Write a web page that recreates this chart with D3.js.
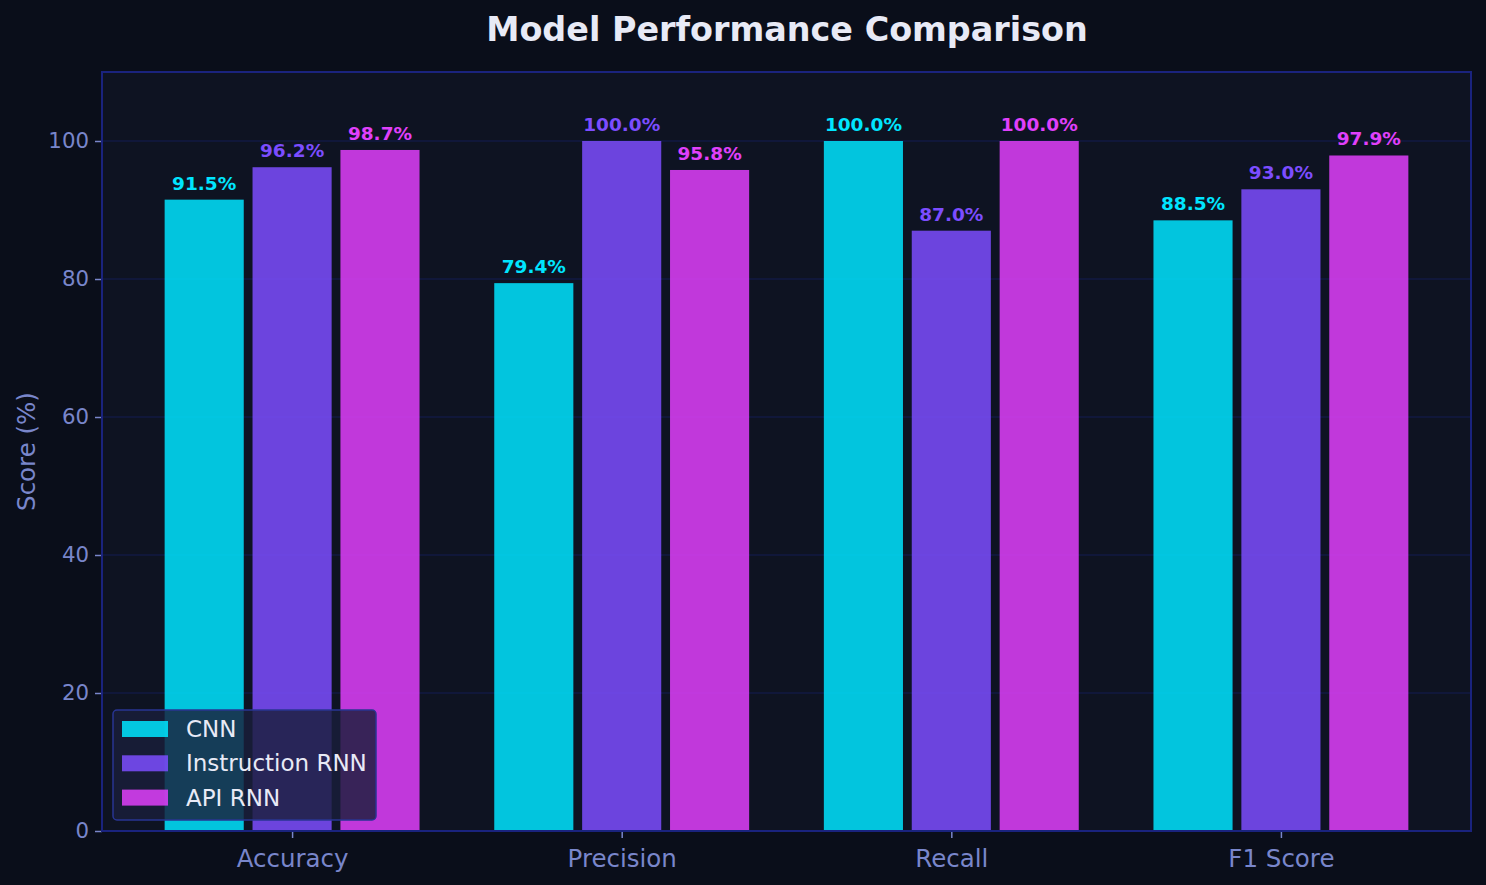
<!DOCTYPE html>
<html><head><meta charset="utf-8">
<script src="https://cdn.jsdelivr.net/npm/d3@7"></script>
<style>html,body{margin:0;padding:0;background:#0a0e1a;}svg{display:block;font-family:"DejaVu Sans",sans-serif;}</style>
</head><body>
<svg id="chart" width="1486" height="885"></svg>
<script>
const categories = ["Accuracy", "Precision", "Recall", "F1 Score"];
const seriesNames = ["CNN", "Instruction RNN", "API RNN"];
const cnnValues = [91.5, 79.4, 100.0, 88.5];
const instructionRnnValues = [96.2, 100.0, 87.0, 93.0];
const apiRnnValues = [98.7, 95.8, 100.0, 97.9];
const yTicks = [0, 20, 40, 60, 80, 100];
const seriesColors = ["#00e5ff", "#7c4dff", "#e040fb"];

const series = [cnnValues, instructionRnnValues, apiRnnValues];
const svg = d3.select("#chart");
const L = 102, R = 1471, T = 72, B = 831;

svg.append("rect").attr("width", 1486).attr("height", 885).attr("fill", "#0a0e1a");
svg.append("rect").attr("x", L).attr("y", T).attr("width", R - L).attr("height", B - T).attr("fill", "#0e1322");

const x = d3.scaleLinear().domain([-0.5767, 3.5767]).range([L, R]);
const y = d3.scaleLinear().domain([0, 110]).range([B, T]);
const step = 0.8 / 3, bw = step * 0.9;

// grid
svg.append("g").selectAll("line").data(yTicks.filter(d => d > 0)).join("line")
  .attr("x1", L).attr("x2", R).attr("y1", d => y(d)).attr("y2", d => y(d))
  .attr("stroke", "#1a237e").attr("stroke-opacity", 0.35).attr("stroke-width", 1.5);

// bars
series.forEach((vals, si) => {
  const off = (si - 1) * step;
  svg.append("g").selectAll("rect").data(vals).join("rect")
    .attr("x", (d, i) => x(i + off - bw / 2))
    .attr("width", (d, i) => x(i + off + bw / 2) - x(i + off - bw / 2))
    .attr("y", d => y(d)).attr("height", d => y(0) - y(d))
    .attr("fill", seriesColors[si]).attr("fill-opacity", 0.85);
  svg.append("g").selectAll("text").data(vals).join("text")
    .attr("x", (d, i) => x(i + off)).attr("y", d => y(d) - 10)
    .attr("text-anchor", "middle").attr("fill", seriesColors[si])
    .attr("font-size", 18.5).attr("font-weight", "bold")
    .text(d => d.toFixed(1) + "%");
});

// axes
const yAxis = svg.append("g").attr("transform", `translate(${L},0)`)
  .call(d3.axisLeft(y).tickValues(yTicks).tickSize(7).tickPadding(6));
const xAxis = svg.append("g").attr("transform", `translate(0,${B})`)
  .call(d3.axisBottom(x).tickValues([0, 1, 2, 3]).tickFormat(i => categories[i]).tickSize(7).tickPadding(6));
[yAxis, xAxis].forEach(g => {
  g.select(".domain").remove();
  g.selectAll(".tick line").attr("stroke", "#7986cb").attr("stroke-width", 1.5);
  g.selectAll(".tick text").attr("fill", "#7986cb").attr("font-family", "DejaVu Sans, sans-serif");
});
yAxis.selectAll(".tick text").attr("font-size", 21.3);
xAxis.selectAll(".tick text").attr("font-size", 24.5).attr("dy", "0.95em");

// frame
svg.append("rect").attr("x", L).attr("y", T).attr("width", R - L).attr("height", B - T)
  .attr("fill", "none").attr("stroke", "#1a237e").attr("stroke-width", 2);

// labels
svg.append("text").attr("x", 787).attr("y", 41).attr("text-anchor", "middle")
  .attr("fill", "#e8eaf6").attr("font-size", 33.4).attr("font-weight", "bold")
  .text("Model Performance Comparison");
svg.append("text").attr("transform", `translate(35,${(T + B) / 2 + 0}) rotate(-90)`)
  .attr("text-anchor", "middle").attr("fill", "#7986cb").attr("font-size", 24.5)
  .text("Score (%)");

// legend
const lg = svg.append("g");
lg.append("rect").attr("x", 113).attr("y", 710).attr("width", 263).attr("height", 110).attr("rx", 4)
  .attr("fill", "#1a1f3a").attr("fill-opacity", 0.82).attr("stroke", "#283593").attr("stroke-width", 1.5);
seriesNames.forEach((n, i) => {
  const cy = 729 + i * 34.3;
  lg.append("rect").attr("x", 122).attr("y", cy - 8).attr("width", 46).attr("height", 16)
    .attr("fill", seriesColors[i]).attr("fill-opacity", 0.85);
  lg.append("text").attr("x", 186).attr("y", cy + 8).attr("fill", "#e8eaf6").attr("font-size", 23).text(n);
});
</script>
</body></html>
